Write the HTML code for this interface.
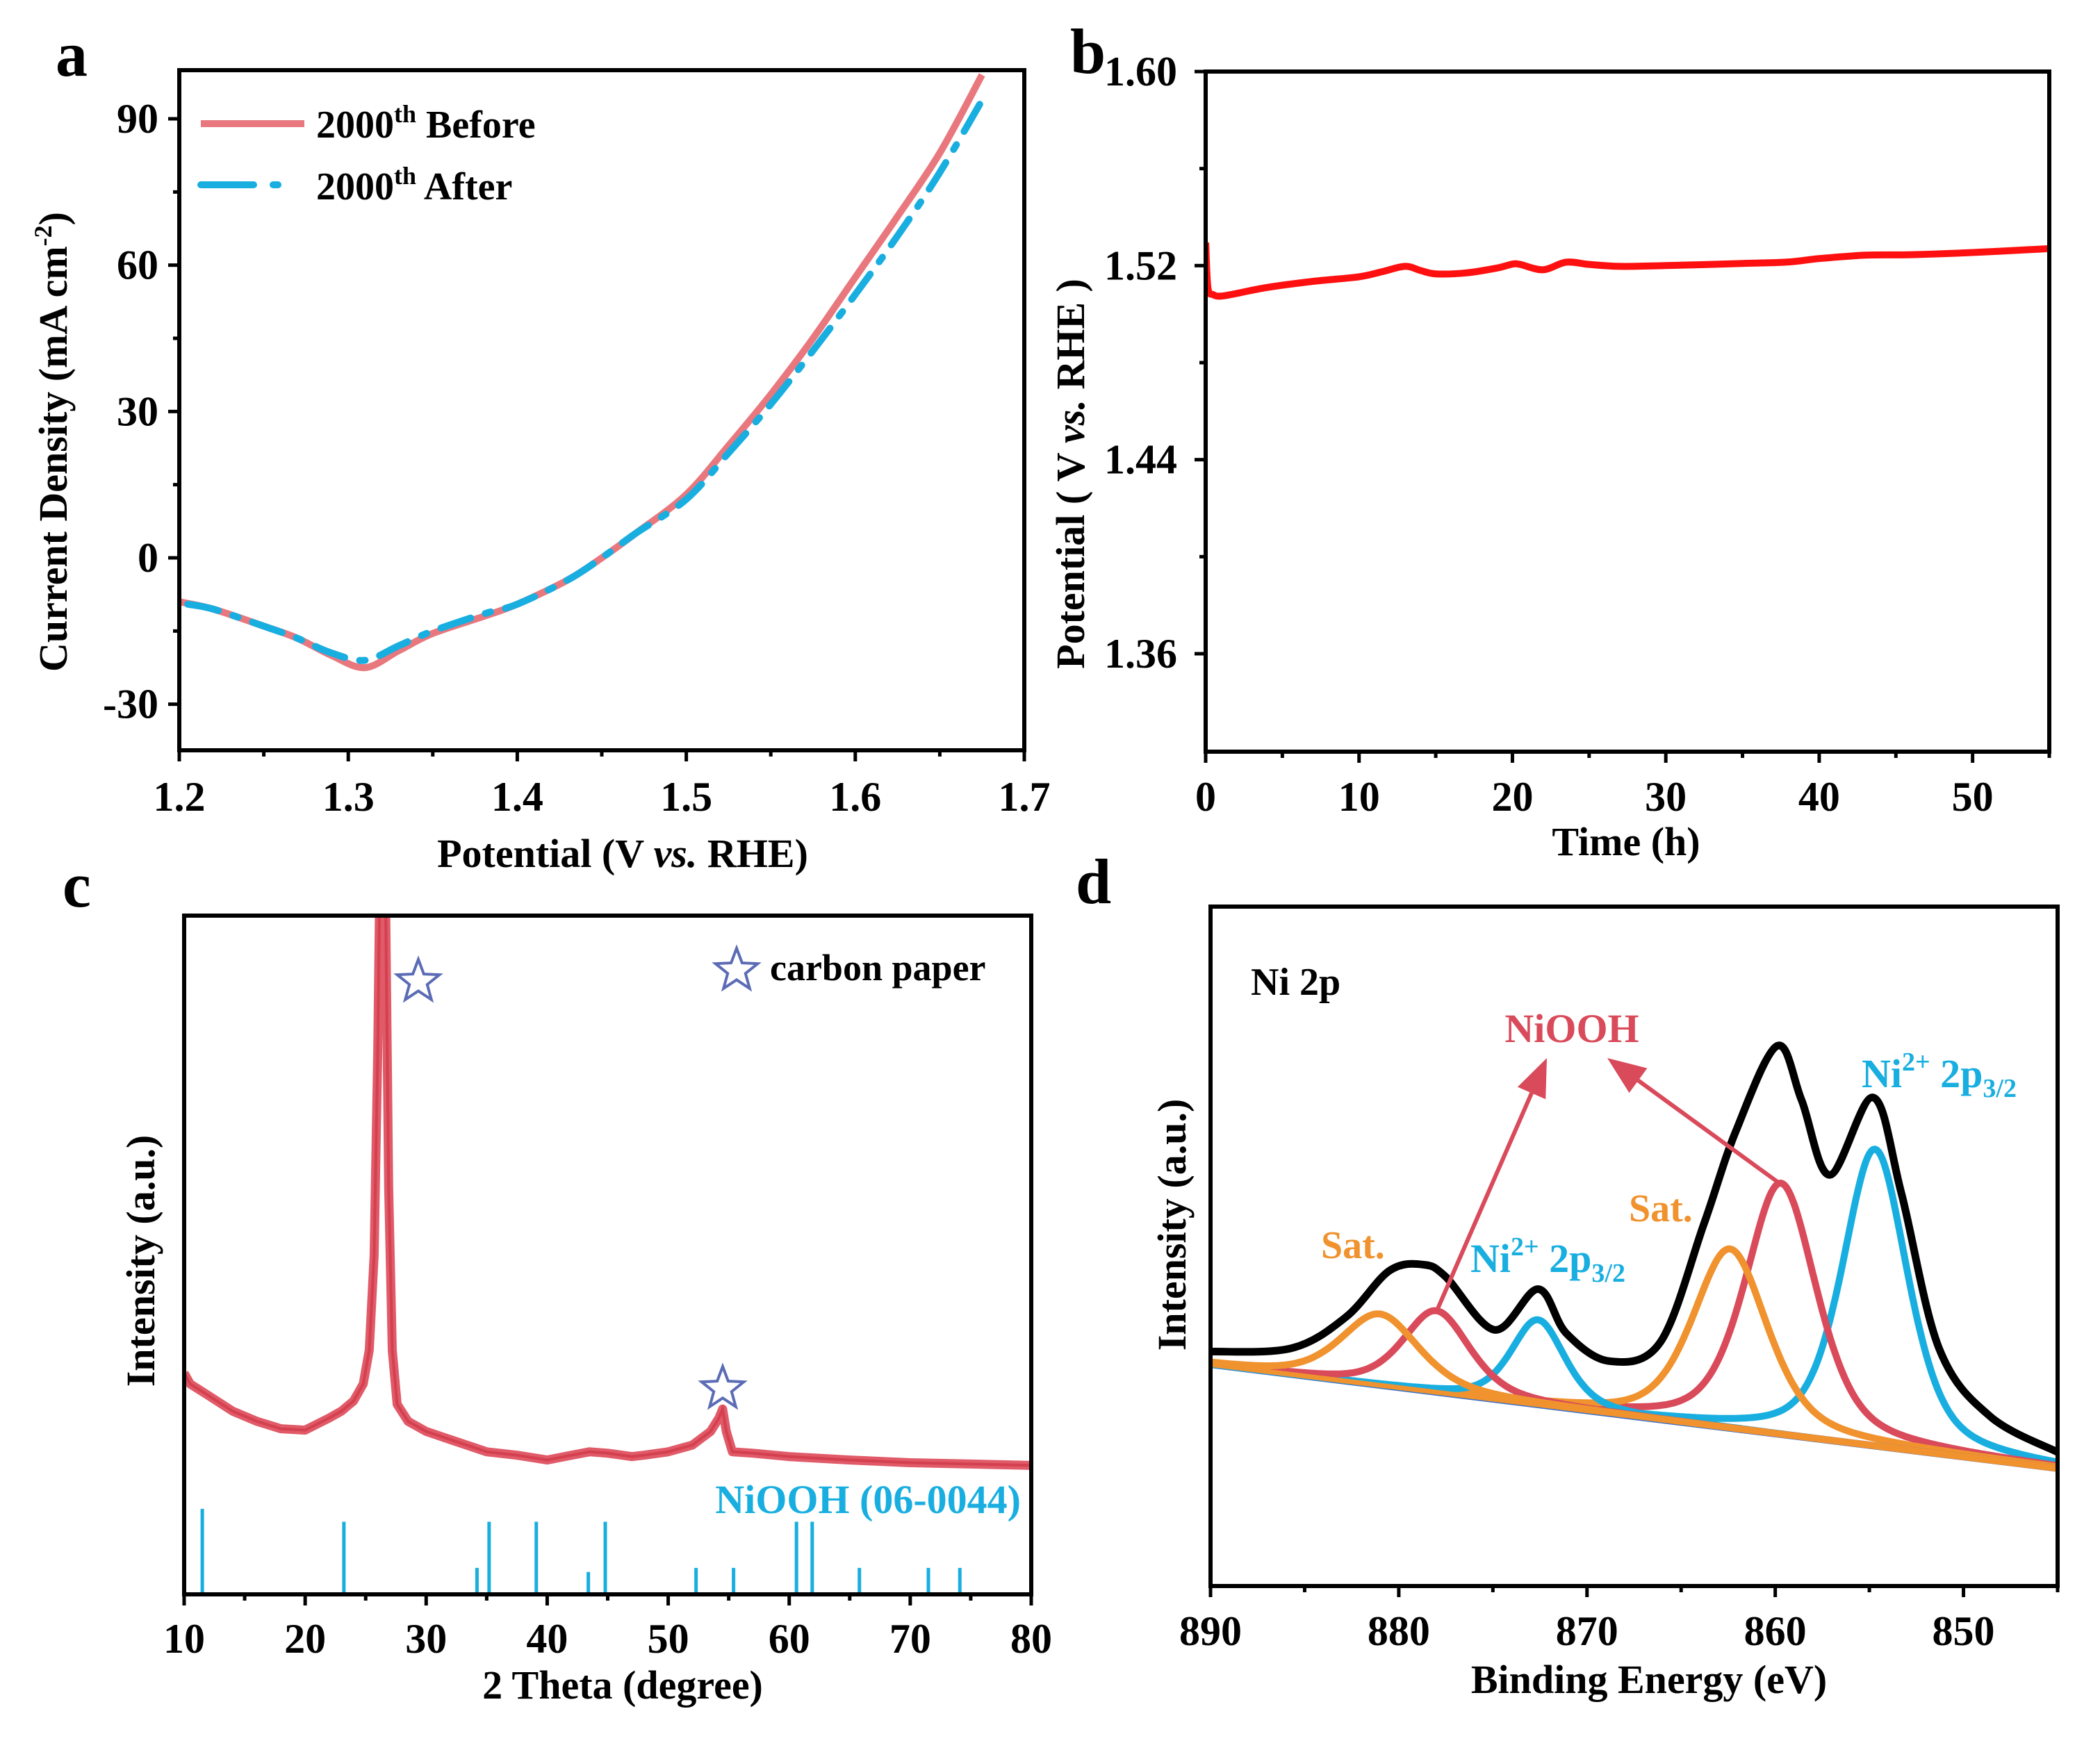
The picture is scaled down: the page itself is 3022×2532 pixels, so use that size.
<!DOCTYPE html>
<html><head><meta charset="utf-8"><style>
html,body{margin:0;padding:0;background:#fff;}
svg{display:block;font-family:"Liberation Serif",serif;font-weight:bold;}
</style></head><body>
<svg id="fig" width="3022" height="2532" viewBox="0 0 3022 2532" xmlns="http://www.w3.org/2000/svg"></svg>
<script>
// ---------- Panel a data ----------
const aPotBefore = [1.2,1.22,1.25,1.27,1.29,1.31,1.33,1.35,1.38,1.4,1.43,1.45,1.47,1.5,1.525,1.55,1.575,1.6,1.625,1.65,1.675];
const aCurBefore = [-9,-10.5,-14,-16.5,-20,-22.5,-19,-15.5,-12,-9.5,-4.5,0,5,13,23,33.5,45,57.5,70,83,99];
const aPotAfter = [1.205,1.22,1.25,1.27,1.29,1.31,1.33,1.35,1.38,1.4,1.43,1.45,1.47,1.5,1.525,1.55,1.575,1.6,1.625,1.65,1.677];
const aCurAfter = [-9.5,-10.5,-14,-16.5,-19.5,-21,-18,-15,-11.5,-9.5,-4.5,0,5,12,21.5,31.5,42.5,54,66,79,95];
const aXTicks = [1.2,1.3,1.4,1.5,1.6,1.7];
const aYTicks = [-30,0,30,60,90];
// ---------- Panel b data ----------
const bTime = [0,0.15,0.5,1,2,4,7,10,11.5,13,14,15,17,19,20,20.5,22,23.5,25,27,30,35,38,40,43,46,50,55];
const bPot = [1.5295,1.5108,1.508,1.5074,1.5085,1.511,1.5135,1.5154,1.5175,1.5197,1.518,1.5166,1.517,1.519,1.5206,1.5205,1.5183,1.5214,1.5205,1.5197,1.52,1.5209,1.5215,1.5229,1.5243,1.5245,1.5254,1.527];
const bXTicks = [0,10,20,30,40,50];
const bYTicks = [1.36,1.44,1.52,1.60];
// ---------- Panel c data ----------
const cTheta = [10,10.5,12,14,16,18,20,22,23,24,24.8,25.3,25.7,26,26.2,26.6,26.9,27.2,27.6,28.5,30,32.5,35,37.5,40,42,43.5,45,47,48,50,52,53.5,54.2,54.5,54.8,55.3,57,60,65,70,75,80];
const cInt = [32.6,31,29.3,27,25.5,24.4,24.2,26,27,28.5,31,36,50,80,110,110,60,36,28,25.5,24,22.5,21,20.5,19.8,20.5,21,20.8,20.3,20.5,21,22,24,26,27.3,24,21,20.8,20.3,19.8,19.4,19.2,19];
const cStickPos = [11.5,23.2,34.2,35.2,39.1,43.4,44.8,52.3,55.4,60.6,61.9,65.8,71.5,74.1];
const cStickInt = [12.6,10.7,3.9,10.7,10.7,3.3,10.7,3.9,3.9,10.7,10.7,3.9,3.9,3.9];
const cXTicks = [10,20,30,40,50,60,70,80];
// ---------- Panel d data ----------
const dBgStart = [890,32.6];
const dBgEnd = [845,17.3];
const dPeakNames = ['sat-1','niooh-1','ni2-2p-1','sat-2','niooh-2','ni2-2p-2'];
const dPeakCenter = [881,878,872.6,862.4,859.7,854.7];
const dPeakHeight = [10.5,12,12.5,26.4,37,43.7];
const dPeakHwhm = [2.45,2.1,1.7,2.35,2.25,2.05];
const dPeakColor = ['#f0922e','#d94a5a','#19aee0','#f0922e','#d94a5a','#19aee0'];
const dEnvEnergy = [890,885.7,882.8,880.5,878.7,877.5,874.9,872.6,871.1,868.8,866.1,863.8,862.1,859.9,858.6,857.1,854.8,853.3,851.3,848.6,845];
const dEnvInt = [34.5,35,39.6,46.4,47.3,45.5,37.7,43.7,37.2,33.1,35.9,53.2,66.9,79.5,71.5,60.5,71.9,57.8,35,25,19.7];
const dXTicks = [890,880,870,860,850];

const svg = document.getElementById('fig');
const NS = 'http://www.w3.org/2000/svg';
function mk(tag, attrs, name, parent){
  const e = document.createElementNS(NS, tag);
  for (const k in attrs) e.setAttribute(k, attrs[k]);
  
  
  (parent||svg).appendChild(e);
  return e;
}
function txt(x,y,s,size,name,opts){
  opts = opts||{};
  const t = mk('text',{x:x,y:y,'font-size':size,fill:opts.fill||'#000','text-anchor':opts.anchor||'start'},name,opts.parent);
  if (opts.rotate) t.setAttribute('transform','rotate(-90 '+x+' '+y+')');
  t.innerHTML = s;
  return t;
}
function scale(d0,d1,r0,r1){return v=>r0+(v-d0)/(d1-d0)*(r1-r0);}
function pathOf(xs,ys,sx,sy){
  let d='';
  for(let i=0;i<xs.length;i++){d+=(i?'L':'M')+sx(xs[i]).toFixed(1)+' '+sy(ys[i]).toFixed(1);}
  return d;
}
function smoothOf(xs,ys,sx,sy){
  const P=xs.map((x,i)=>[sx(x),sy(ys[i])]);
  let d='M'+P[0][0].toFixed(1)+' '+P[0][1].toFixed(1);
  for(let i=0;i<P.length-1;i++){
    const p0=P[Math.max(0,i-1)],p1=P[i],p2=P[i+1],p3=P[Math.min(P.length-1,i+2)];
    const c1=[p1[0]+(p2[0]-p0[0])/6,p1[1]+(p2[1]-p0[1])/6];
    const c2=[p2[0]-(p3[0]-p1[0])/6,p2[1]-(p3[1]-p1[1])/6];
    d+='C'+c1[0].toFixed(1)+' '+c1[1].toFixed(1)+' '+c2[0].toFixed(1)+' '+c2[1].toFixed(1)+' '+p2[0].toFixed(1)+' '+p2[1].toFixed(1);
  }
  return d;
}
function frame(L,T,R,B,name,clipId){
  mk('rect',{x:L,y:T,width:R-L,height:B-T,fill:'none',stroke:'#000','stroke-width':6},name);
  const cp = mk('clipPath',{id:clipId},clipId);
  mk('rect',{x:L,y:T,width:R-L,height:B-T},clipId+'-rect',cp);
}

// ================= Panel a =================
(function(){
  const L=258,R=1474,T=101,B=1080;
  const sx=scale(1.2,1.7,L,R), sy=scale(0,90,803,171);
  const g=mk('g',{},'panel-a');
  const cg=mk('g',{'clip-path':'url(#clipA)'},'panel-a-plot',g);
  mk('path',{d:smoothOf(aPotBefore,aCurBefore,sx,sy),fill:'none',stroke:'#e8777e','stroke-width':10,'stroke-linejoin':'round'},'before-curve',cg);
  mk('path',{d:smoothOf(aPotAfter,aCurAfter,sx,sy),fill:'none',stroke:'#19aee0','stroke-width':10,'stroke-dasharray':'45 22 8 22','stroke-linecap':'round'},'after-curve',cg);
  frame(L,T,R,B,'panel-a-frame','clipA');
  aXTicks.forEach(v=>{
    mk('line',{x1:sx(v),y1:B,x2:sx(v),y2:B+16,stroke:'#000','stroke-width':5},'x-tick-a');
    txt(sx(v),1167,v.toFixed(1),60,'x-tick-label-a',{anchor:'middle'});
    if(v<1.7) mk('line',{x1:sx(v+0.05),y1:B,x2:sx(v+0.05),y2:B+9,stroke:'#000','stroke-width':5},'x-minor-tick-a');
  });
  aYTicks.forEach(v=>{
    mk('line',{x1:L-16,y1:sy(v),x2:L,y2:sy(v),stroke:'#000','stroke-width':5},'y-tick-a');
    txt(228,sy(v)+20,String(v),60,'y-tick-label-a',{anchor:'end'});
    if(v+15<=100) mk('line',{x1:L-9,y1:sy(v+15),x2:L,y2:sy(v+15),stroke:'#000','stroke-width':5},'y-minor-tick-a');
  });
  txt(896,1248,'Potential (V <tspan font-style="italic">vs.</tspan> RHE)',58,'x-axis-title-a',{anchor:'middle'});
  txt(96,636,'Current Density (mA cm<tspan dy="-22" font-size="36">-2</tspan><tspan dy="22">)</tspan>',58,'y-axis-title-a',{anchor:'middle',rotate:true});
  txt(80,109,'a',92,'panel-label-a');
  mk('line',{x1:289,y1:178,x2:438,y2:178,stroke:'#e8777e','stroke-width':10},'legend-line-before');
  txt(455,198,'2000<tspan dy="-22" font-size="36">th</tspan><tspan dy="22"> Before</tspan>',56,'legend-entry-before');
  mk('path',{d:'M289 266 L365 266 M393 266 L400 266',fill:'none',stroke:'#19aee0','stroke-width':10,'stroke-linecap':'round'},'legend-line-after');
  txt(455,287,'2000<tspan dy="-22" font-size="36">th</tspan><tspan dy="22"> After</tspan>',56,'legend-entry-after');
})();

// ================= Panel b =================
(function(){
  const L=1735,R=2949,T=103,B=1082;
  const sx=scale(0,55,L,R), sy=scale(1.36,1.60,941,103);
  const cg=mk('g',{'clip-path':'url(#clipB)'},'panel-b-plot');
  mk('path',{d:smoothOf(bTime,bPot,sx,sy),fill:'none',stroke:'#ff1010','stroke-width':10,'stroke-linejoin':'round'},'potential-curve',cg);
  frame(L,T,R,B,'panel-b-frame','clipB');
  bXTicks.forEach(v=>{
    mk('line',{x1:sx(v),y1:B,x2:sx(v),y2:B+16,stroke:'#000','stroke-width':5},'x-tick-b');
    txt(sx(v),1167,String(v),60,'x-tick-label-b',{anchor:'middle'});
    mk('line',{x1:sx(v+5),y1:B,x2:sx(v+5),y2:B+9,stroke:'#000','stroke-width':5},'x-minor-tick-b');
  });
  bYTicks.forEach(v=>{
    mk('line',{x1:L-16,y1:sy(v),x2:L,y2:sy(v),stroke:'#000','stroke-width':5},'y-tick-b');
    txt(1694,sy(v)+20,v.toFixed(2),60,'y-tick-label-b',{anchor:'end'});
    if(v<1.6) mk('line',{x1:L-9,y1:sy(v+0.04),x2:L,y2:sy(v+0.04),stroke:'#000','stroke-width':5},'y-minor-tick-b');
  });
  txt(2340,1231,'Time (h)',58,'x-axis-title-b',{anchor:'middle'});
  txt(1560,682,'Potential ( V <tspan font-style="italic">vs.</tspan> RHE  )',58,'y-axis-title-b',{anchor:'middle',rotate:true});
  txt(1540,105,'b',92,'panel-label-b');
})();

// ================= Panel c =================
(function(){
  const L=265,R=1484,T=1318,B=2295;
  const sx=scale(10,80,L,R), sy=scale(0,100,B,T);
  const cg=mk('g',{'clip-path':'url(#clipC)'},'panel-c-plot');
  mk('path',{d:pathOf(cTheta,cInt,sx,sy),fill:'none',stroke:'#e05a68','stroke-width':13,'stroke-linejoin':'round'},'xrd-pattern-band',cg);
  mk('path',{d:pathOf(cTheta,cInt,sx,sy),fill:'none',stroke:'#d4404f','stroke-width':4},'xrd-pattern',cg);
  cStickPos.forEach((p,i)=>{
    mk('line',{x1:sx(p),y1:B,x2:sx(p),y2:sy(cStickInt[i]),stroke:'#19aee0','stroke-width':5},'niooh-reference-line');
  });
  frame(L,T,R,B,'panel-c-frame','clipC');
  cXTicks.forEach(v=>{
    mk('line',{x1:sx(v),y1:B,x2:sx(v),y2:B+16,stroke:'#000','stroke-width':5},'x-tick-c');
    txt(sx(v),2379,String(v),60,'x-tick-label-c',{anchor:'middle'});
    if(v<80) mk('line',{x1:sx(v+5),y1:B,x2:sx(v+5),y2:B+9,stroke:'#000','stroke-width':5},'x-minor-tick-c');
  });
  function star(cx,cy,r,name){
    let d='';
    for(let k=0;k<10;k++){const a=-Math.PI/2+k*Math.PI/5;const rr=k%2?r*0.42:r;d+=(k?'L':'M')+(cx+rr*Math.cos(a)).toFixed(1)+' '+(cy+rr*Math.sin(a)).toFixed(1);}
    mk('path',{d:d+'Z',fill:'none',stroke:'#5b6bb5','stroke-width':4},name);
  }
  star(602,1413,32,'star-marker-26');
  star(1040,1999,32,'star-marker-54');
  star(1060,1397,32,'legend-star');
  txt(1108,1411,'carbon paper',54,'legend-entry-carbon-paper');
  txt(1469,2178,'NiOOH (06-0044)',58,'niooh-label',{anchor:'end',fill:'#19aee0'});
  txt(896,2445,'2 Theta (degree)',58,'x-axis-title-c',{anchor:'middle'});
  txt(222,1815,'Intensity (a.u.)',58,'y-axis-title-c',{anchor:'middle',rotate:true});
  txt(90,1305,'c',92,'panel-label-c');
})();

// ================= Panel d =================
(function(){
  const L=1742,R=2961,T=1305,B=2283;
  const sx=scale(890,845,L,R), sy=scale(0,100,B,T);
  const Es=[]; for(let e=890;e>=845-1e-9;e-=0.1) Es.push(+e.toFixed(2));
  const bg=E=>dBgStart[1]+(E-dBgStart[0])/(dBgEnd[0]-dBgStart[0])*(dBgEnd[1]-dBgStart[1]);
  const pk=(E,i)=>{const u=(E-dPeakCenter[i])/dPeakHwhm[i];return dPeakHeight[i]*(0.5/(1+u*u)+0.5*Math.exp(-Math.LN2*u*u));};
  const cg=mk('g',{'clip-path':'url(#clipD)'},'panel-d-plot');
  mk('line',{x1:sx(dBgStart[0]),y1:sy(dBgStart[1]),x2:sx(dBgEnd[0]),y2:sy(dBgEnd[1]),stroke:'#3a70c8','stroke-width':10},'background-line',cg);
  [5,4,3,2,1,0].forEach(i=>{
    mk('path',{d:pathOf(Es,Es.map(E=>bg(E)+pk(E,i)),sx,sy),fill:'none',stroke:dPeakColor[i],'stroke-width':10},'fit-peak-'+dPeakNames[i],cg);
  });
  mk('line',{x1:sx(dBgStart[0]),y1:sy(dBgStart[1]),x2:sx(dBgEnd[0]),y2:sy(dBgEnd[1]),stroke:'#f0922e','stroke-width':7},'background-line-overlay',cg);
  mk('path',{d:smoothOf(dEnvEnergy,dEnvInt,sx,sy),fill:'none',stroke:'#000','stroke-width':11},'envelope-curve',cg);
  frame(L,T,R,B,'panel-d-frame','clipD');
  dXTicks.forEach(v=>{
    mk('line',{x1:sx(v),y1:B,x2:sx(v),y2:B+16,stroke:'#000','stroke-width':5},'x-tick-d');
    txt(sx(v),2368,String(v),60,'x-tick-label-d',{anchor:'middle'});
    mk('line',{x1:sx(v-5),y1:B,x2:sx(v-5),y2:B+9,stroke:'#000','stroke-width':5},'x-minor-tick-d');
  });
  function arrow(x1,y1,x2,y2,name){
    const a=Math.atan2(y2-y1,x2-x1),hl=55,hw=22;
    const bx=x2-hl*Math.cos(a),by=y2-hl*Math.sin(a);
    mk('line',{x1:x1,y1:y1,x2:bx,y2:by,stroke:'#d94a5a','stroke-width':6},name+'-shaft');
    const px=-Math.sin(a)*hw,py=Math.cos(a)*hw;
    mk('path',{d:`M${x2} ${y2}L${bx+px} ${by+py}L${bx-px} ${by-py}Z`,fill:'#d94a5a'},name+'-head');
  }
  arrow(2068,1886,2226,1523,'arrow-niooh-1');
  arrow(2559,1702,2313,1523,'arrow-niooh-2');
  txt(2262,1500,'NiOOH',58,'niooh-annotation',{anchor:'middle',fill:'#d94a5a'});
  txt(1800,1432,'Ni 2p',56,'ni-2p-label');
  txt(1901,1811,'Sat.',56,'sat-label-1',{fill:'#f0922e'});
  txt(2344,1758,'Sat.',56,'sat-label-2',{fill:'#f0922e'});
  txt(2116,1831,'Ni<tspan dy="-24" font-size="38">2+</tspan><tspan dy="24"> 2p</tspan><tspan dy="14" font-size="38">3/2</tspan>',58,'ni2-label-1',{fill:'#19aee0'});
  txt(2679,1565,'Ni<tspan dy="-24" font-size="38">2+</tspan><tspan dy="24"> 2p</tspan><tspan dy="14" font-size="38">3/2</tspan>',58,'ni2-label-2',{fill:'#19aee0'});
  txt(2373,2437,'Binding Energy (eV)',58,'x-axis-title-d',{anchor:'middle'});
  txt(1706,1763,'Intensity (a.u.)',58,'y-axis-title-d',{anchor:'middle',rotate:true});
  txt(1548,1300,'d',92,'panel-label-d');
})();
</script>
</body></html>
